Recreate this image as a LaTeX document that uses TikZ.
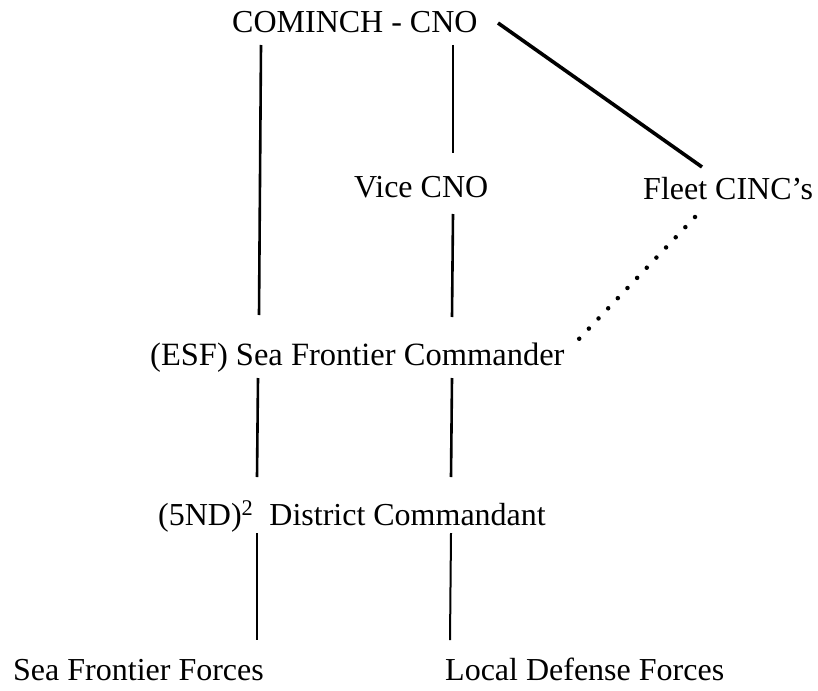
\documentclass[tikz,border=0pt]{standalone}
\usepackage{fontspec}
\setmainfont{Liberation Serif}
\begin{document}
\begin{tikzpicture}[x=1pt,y=-1pt,
  lbl/.style={anchor=base west,inner sep=0pt,font=\fontsize{32}{38}\selectfont},
  conn/.style={line width=2.6pt},
  thinconn/.style={line width=2pt},
  diag/.style={line width=3.6pt},
  dotconn/.style={line width=4.5pt,dash pattern=on 0pt off 14pt,line cap=round}]
\useasboundingbox (0,0) rectangle (818,690);
\node[lbl] (cominch) at (232,33) {COMINCH - CNO};
\node[lbl] (vice) at (354,197) {Vice CNO};
\node[lbl] (fleet) at (643,199) {Fleet CINC's};
\node[lbl,font=\fontsize{32.5}{38}\selectfont] (esf) at (150,365) {(ESF) Sea Frontier Commander};
\node[lbl] (dist) at (158,525) {(5ND)\textsuperscript{2}\ \ District Commandant};
\node[lbl] (sff) at (13,680) {Sea Frontier Forces};
\node[lbl] (ldf) at (445,680) {Local Defense Forces};
% connector ends
\coordinate (c1) at (261,45);
\coordinate (e1) at (259,315);
\coordinate (c2) at (453,45);
\coordinate (v1) at (453,153);
\coordinate (v2) at (453,214);
\coordinate (e2) at (452,317);
\coordinate (c3) at (498,23);
\coordinate (f1) at (702,167);
\coordinate (f2) at (695,217);
\coordinate (e3) at (578,340);
\coordinate (e4) at (258,378);
\coordinate (d1) at (257,477);
\coordinate (e5) at (452,378);
\coordinate (d2) at (451,477);
\coordinate (d3) at (257,533);
\coordinate (s1) at (257,640);
\coordinate (d4) at (451,533);
\coordinate (l1) at (450,640);
\draw[conn] (c1) -- (e1);
\draw[conn] (c2) -- (v1);
\draw[conn] (v2) -- (e2);
\draw[diag] (c3) -- (f1);
\draw[dotconn] (f2) -- (e3);
\draw[conn] (e4) -- (d1);
\draw[conn] (e5) -- (d2);
\draw[thinconn] (d3) -- (s1);
\draw[thinconn] (d4) -- (l1);
\end{tikzpicture}
\end{document}
